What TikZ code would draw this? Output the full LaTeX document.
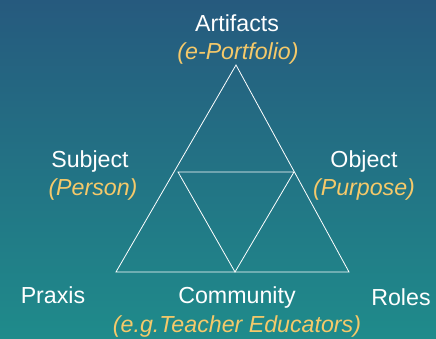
\documentclass[tikz,border=0pt]{standalone}
\usepackage{fontspec}
\setmainfont{Liberation Sans}
\usepackage{tikz}
\definecolor{bgtop}{HTML}{265A7E}
\definecolor{bgbot}{HTML}{1F8B8B}
\definecolor{gold}{HTML}{F5C96A}
\newcommand{\GOLD}[1]{\textcolor{gold}{\itshape #1}}
\tikzset{lbl/.style={anchor=base, text=white, inner sep=0pt,
  font=\fontsize{23.2}{27}\selectfont}}

\begin{document}
\begin{tikzpicture}[x=1pt,y=1pt]
\shade[top color=bgtop, bottom color=bgbot] (0,0) rectangle (436,338);
\useasboundingbox (0,0) rectangle (436,338);

% outer triangle
\coordinate (apex) at (236,273);
\coordinate (left) at (116,66);
\coordinate (right) at (349,66);
% inner triangle
\coordinate (midl) at (178,166);
\coordinate (midr) at (294,166);
\coordinate (midb) at (235,66);

\draw[white, line width=0.8pt, line join=miter] (apex) -- (left) -- (right) -- cycle;
\draw[white, line width=0.8pt] (midl) -- (midr) -- (midb) -- cycle;

\node[lbl] (artifacts) at (237,306) {Artifacts};
\node[lbl] (portfolio) at (238,278) {\GOLD{(e-Portfolio)}};

\node[lbl] (subject) at (90,171) {Subject};
\node[lbl] (person) at (93,143) {\GOLD{(Person)}};

\node[lbl] (object) at (364,171) {Object};
\node[lbl] (purpose) at (364,143) {\GOLD{(Purpose)}};

\node[lbl] (praxis) at (53,35) {Praxis};
\node[lbl] (community) at (237,35) {Community};
\node[lbl] (roles) at (401,33) {Roles};
\node[lbl] (educators) at (237,6) {\GOLD{(e.g.Teacher Educators)}};
\end{tikzpicture}
\end{document}
